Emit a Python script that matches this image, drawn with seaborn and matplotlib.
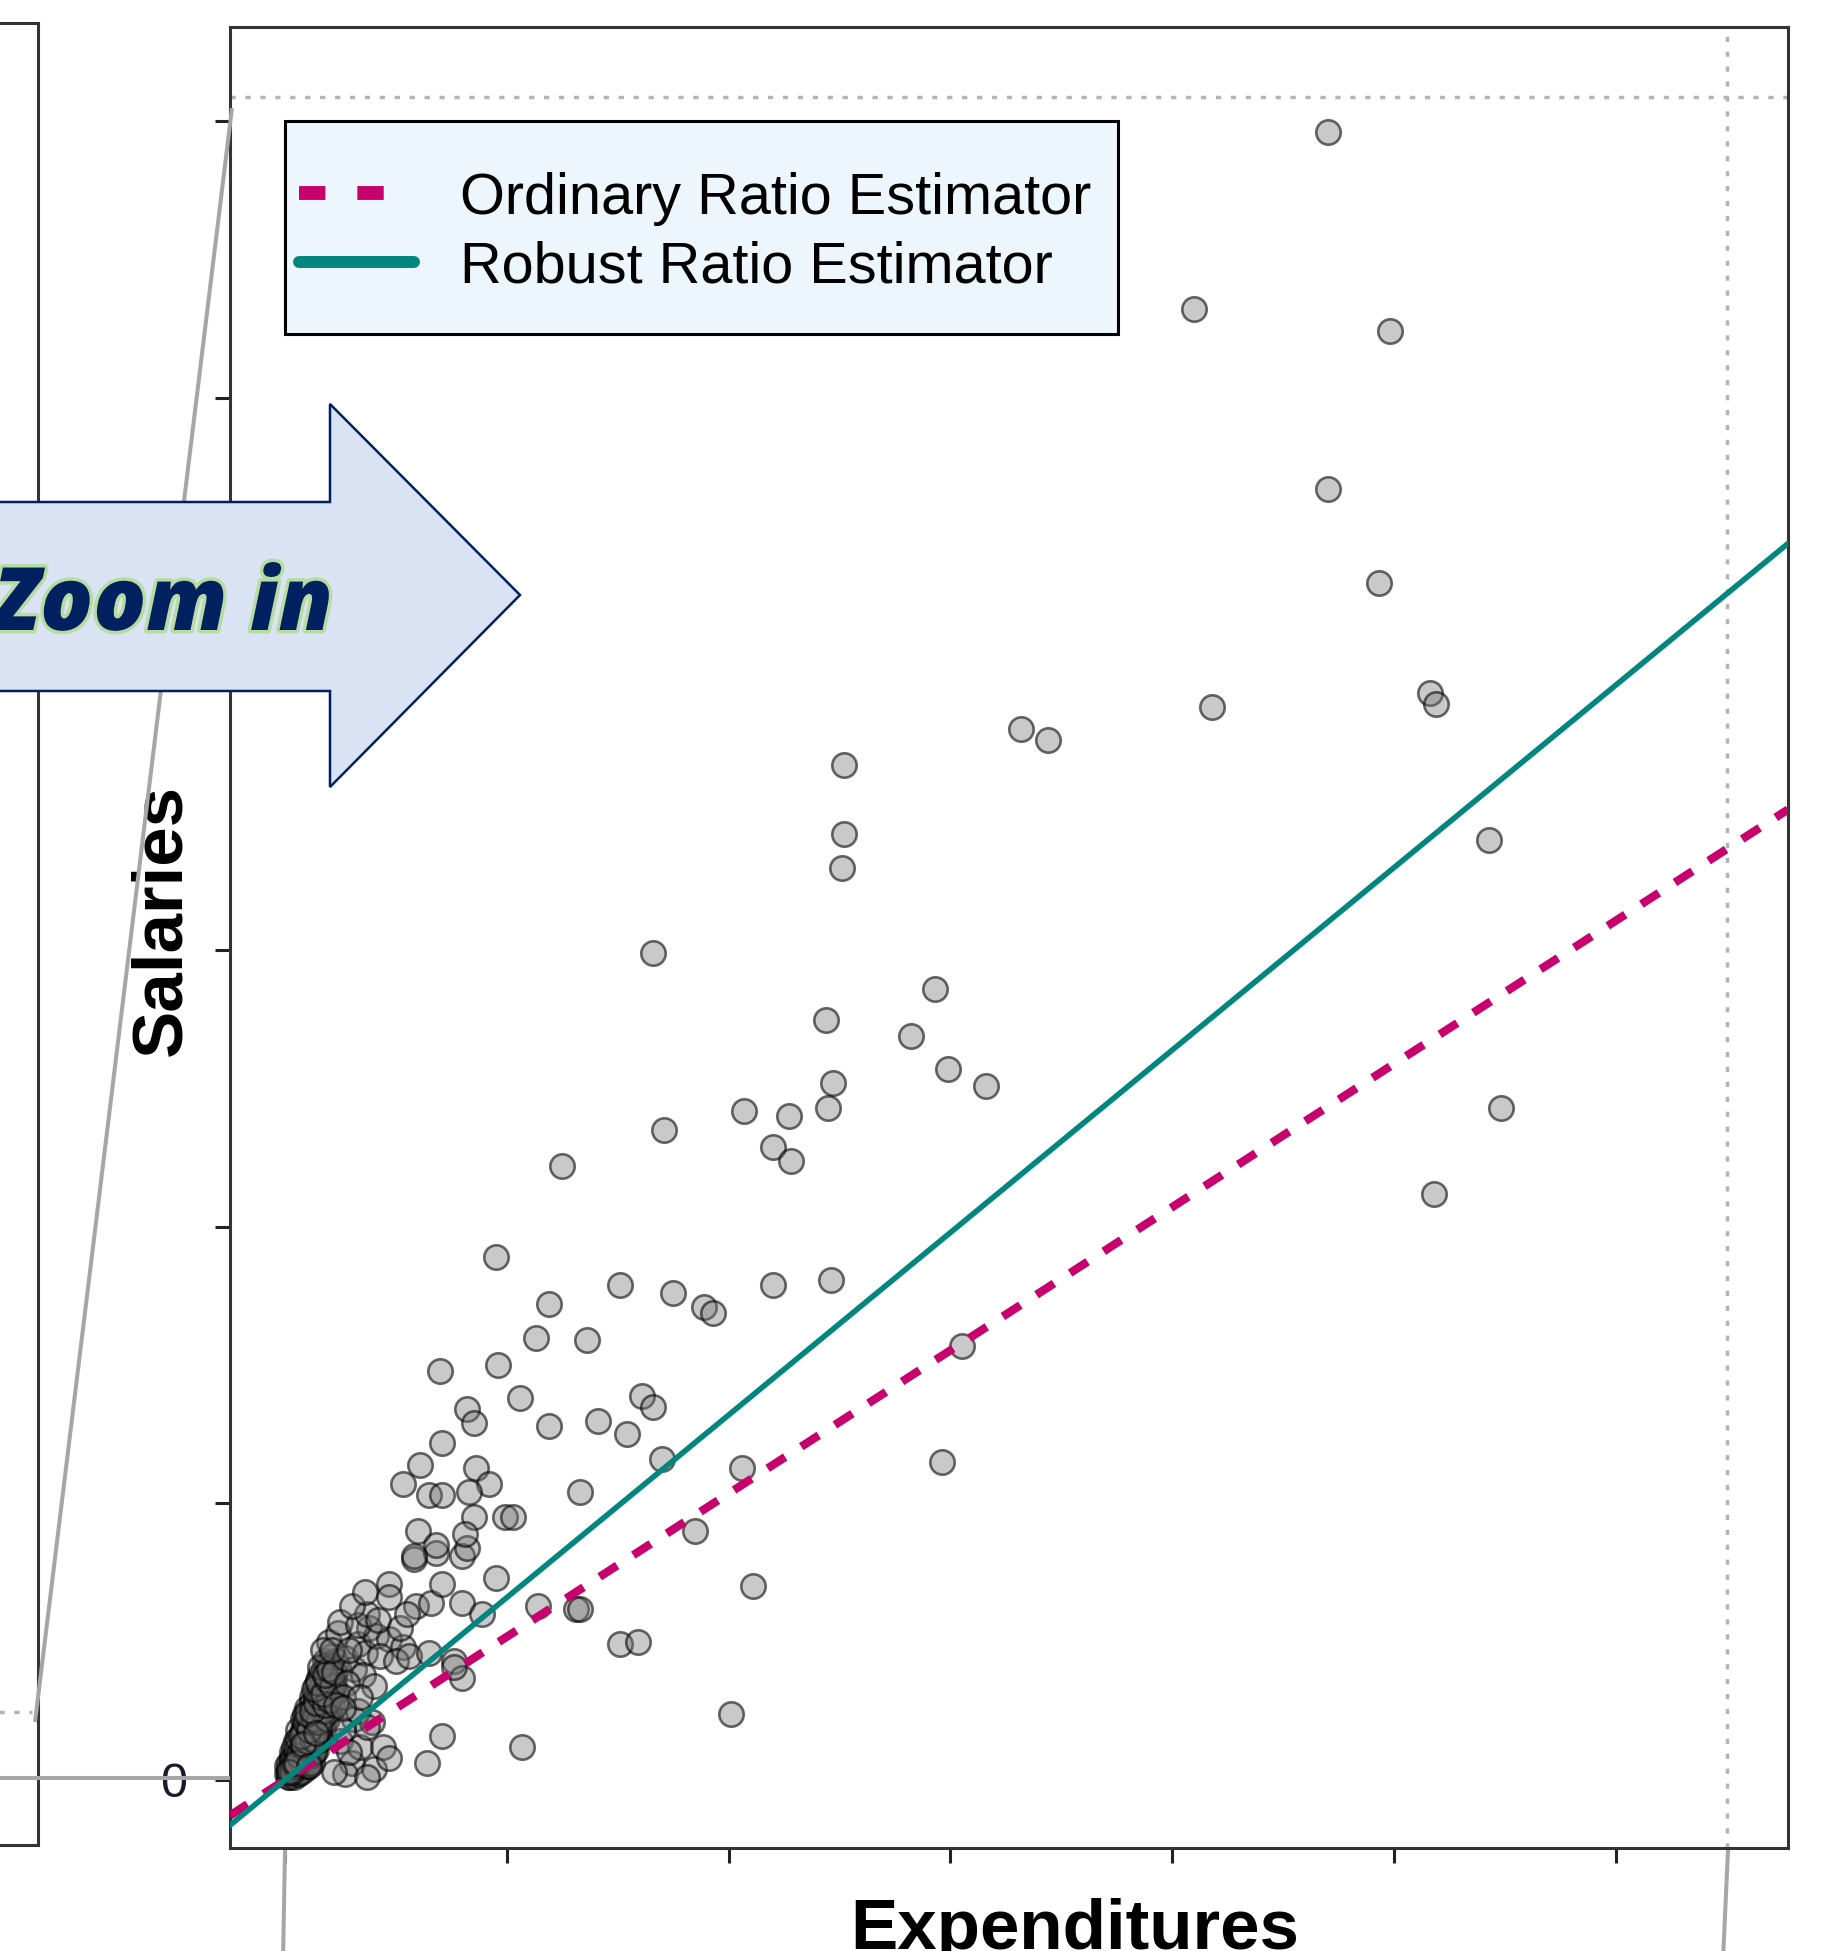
import numpy as np
import pandas as pd
import matplotlib
matplotlib.use("Agg")
import matplotlib.pyplot as plt
import seaborn as sn
from matplotlib.lines import Line2D
from matplotlib.patches import Polygon, Rectangle
import matplotlib.patheffects as pe

# values, in tick units (ticks are unlabelled except 0)
blob_x = [0.01,0.03,0.05,0.02,0.04,0.07,0.09,0.03,0.06,0.08,
          0.11,0.05,0.08,0.10,0.13,0.06,0.09,0.12,0.15,0.08,
          0.11,0.14,0.17,0.10,0.13,0.16,0.19,0.12,0.15,0.18,
          0.21,0.14,0.17,0.20,0.23,0.16,0.19,0.22,0.18,0.21,
          0.24,0.02,0.04,0.06,0.07,0.09,0.10,0.12,0.14,0.16,
          0.18,0.05,0.07,0.11,0.13,0.15,0.17,0.19,0.21,0.20,
          0.01,0.04,0.08,0.03,0.06,
          0.02,0.03,0.04,0.05,0.06,0.07,0.08,0.09,0.10,0.12,
          0.02,0.04,0.06,0.08,0.10,0.12,0.14,0.03,0.05,0.07,
          0.09,0.11,0.13,0.15,0.17,0.06,0.08,0.10,0.12,0.14,
          0.16,0.18,0.20,0.09,0.11,0.13,0.15,0.17,0.19,0.22,
          0.12,0.14,0.16,0.18,0.20,0.15,0.17,0.19,0.21,0.23,
          0.03,0.05,0.07,0.09,0.11,0.13,0.04,0.06,0.08,0.10,
          0.12,0.14,0.16,0.07,0.09,0.11,0.13,0.15,0.17,0.19,
          0.10,0.12,0.14,0.16,0.18,0.20,0.13,0.15,0.17,0.19,
          0.21,0.16,0.18,0.20,0.22,0.02,0.05,0.08,0.11,0.14]
blob_y = [0.02,0.03,0.02,0.06,0.07,0.05,0.04,0.10,0.11,0.09,
          0.08,0.14,0.15,0.13,0.12,0.18,0.19,0.17,0.16,0.22,
          0.23,0.21,0.20,0.26,0.27,0.25,0.24,0.30,0.31,0.29,
          0.28,0.34,0.35,0.33,0.32,0.38,0.40,0.37,0.43,0.45,
          0.41,0.01,0.04,0.06,0.08,0.11,0.16,0.20,0.24,0.28,
          0.32,0.09,0.13,0.10,0.15,0.19,0.23,0.27,0.31,0.36,
          0.05,0.12,0.18,0.08,0.03,
          0.01,0.02,0.01,0.04,0.02,0.03,0.06,0.07,0.05,0.06,
          0.04,0.05,0.08,0.12,0.10,0.09,0.11,0.07,0.11,0.10,
          0.14,0.13,0.17,0.14,0.18,0.15,0.17,0.20,0.22,0.19,
          0.22,0.26,0.25,0.24,0.19,0.26,0.29,0.27,0.30,0.34,
          0.28,0.30,0.33,0.36,0.39,0.36,0.39,0.42,0.38,0.43,
          0.03,0.05,0.07,0.09,0.06,0.10,0.06,0.09,0.12,0.14,
          0.15,0.14,0.18,0.16,0.21,0.18,0.22,0.21,0.25,0.22,
          0.24,0.25,0.28,0.30,0.27,0.29,0.33,0.35,0.31,0.36,
          0.34,0.41,0.38,0.40,0.39,0.03,0.06,0.13,0.05,0.17]

near_x = [0.20,0.24,0.17,0.27,0.31,0.33,0.36,0.38,0.35,0.28,
          0.26,0.23,0.31,0.25,0.30,0.27,0.34,0.40,0.26,0.33,
          0.39,0.25,0.21,0.29,0.41,0.47,0.53,0.43,0.50,0.56,
          0.65,0.76,0.80,0.40,0.34,0.26,0.37,0.44,0.47,0.29,
          0.22,0.37,0.71,0.64,1.07,0.47,0.47,0.58,0.59,0.66,
          0.71,0.68,0.80,0.80,0.95,0.89,1.14,0.76,0.33,0.37,
          0.30,0.42,0.52,0.55,0.36]
near_y = [0.50,0.53,0.47,0.44,0.40,0.49,0.46,0.55,0.38,0.35,
          0.30,0.27,0.22,0.14,0.06,0.02,0.12,0.04,0.18,0.25,
          0.21,0.57,0.47,0.47,0.52,0.51,0.48,0.45,0.43,0.45,
          0.46,0.43,0.37,0.34,0.30,0.26,0.19,0.12,0.08,0.10,
          0.03,0.01,0.16,0.06,0.12,0.71,0.66,0.80,0.63,0.64,
          0.71,0.82,0.81,0.64,0.73,0.60,0.63,0.41,0.56,0.60,
          0.63,0.58,0.55,0.60,0.68]

mid_x = [0.95,1.51,1.75,1.89,1.93,2.20,1.19,1.13,1.36,0.70,
         0.96,0.82,0.85,1.06,1.19,1.41,1.54,1.61,1.66,0.71,
         1.70,2.06,0.61,0.53,0.65,0.71,0.86,0.92,0.83,1.33,
         0.99,1.03,0.85,0.60,1.85,0.68,0.82,0.81,0.58,2.46,
         3.05,2.96,2.11,1.31,1.33,1.51,1.59,2.01]
mid_y = [1.89,1.79,1.76,1.71,1.69,1.79,1.72,1.60,1.59,1.48,
         1.50,1.34,1.29,1.38,1.28,1.30,1.25,1.39,1.35,1.22,
         1.16,1.13,1.14,1.07,1.03,1.03,1.13,1.07,1.04,1.04,
         0.95,0.95,0.95,0.90,0.90,0.85,0.84,0.89,0.81,1.81,
         1.57,1.15,0.70,0.62,0.62,0.49,0.50,0.24]

outer_x = [4.70,4.10,4.98,4.70,4.93,5.16,5.19,4.18,3.32,3.44,
           2.52,2.52,2.51,5.43,1.66,2.93,2.44,2.82,2.99,3.16,
           2.47,2.45,2.07,2.27,2.20,2.28,1.71,5.48,1.25,5.18]
outer_y = [5.96,5.32,5.24,4.67,4.33,3.93,3.89,3.88,3.80,3.76,
           3.67,3.42,3.30,3.40,2.99,2.86,2.75,2.69,2.57,2.51,
           2.52,2.43,2.42,2.40,2.29,2.24,2.35,2.43,2.22,2.12]

ratio_ordinary = 0.518
ratio_robust = 0.66
zoom_xmax = 6.50
zoom_ymax = 6.087
ticks = [0, 1, 2, 3, 4, 5, 6]
tick_labels = ["0", "", "", "", "", "", ""]

PINK = "#c8006e"
TEAL = "#00857f"
GRAY = "#a6a6a6"

df = pd.DataFrame({
    "Expenditures": blob_x + near_x + mid_x + outer_x,
    "Salaries": blob_y + near_y + mid_y + outer_y,
})

plt.rcParams["font.family"] = ["Liberation Sans", "DejaVu Sans"]

W, H = 1827, 1951
fig = plt.figure(figsize=(W / 100, H / 100), dpi=100)

# overlay in pixel coordinates for the connectors, arrow and labels
ov = fig.add_axes([0, 0, 1, 1])
ov.set_xlim(0, W)
ov.set_ylim(H, 0)
ov.axis("off")
ov.set_zorder(10)
ov.patch.set_alpha(0)

# left panel (mostly cropped away)
lp = fig.add_axes([-0.5, 0.0543, 0.5208, 0.9339])
lp.set_xticks([])
lp.set_yticks([])
for s in lp.spines.values():
    s.set_linewidth(2.2)
    s.set_color("#333333")

ax = fig.add_axes([230 / W, (H - 1848) / H, 1558 / W, 1821 / H])
sn.scatterplot(data=df, x="Expenditures", y="Salaries", ax=ax, s=310,
               color=(0.45, 0.45, 0.45, 0.38), edgecolor=(0, 0, 0, 0.58),
               linewidth=1.9, legend=False, zorder=2)
ax.axline((0, 0), slope=ratio_ordinary, color=PINK, lw=6,
          dashes=(2.5, 2.3), dash_capstyle="butt", zorder=3)
ax.axline((0, 0), slope=ratio_robust, color=TEAL, lw=4.0, zorder=3.1)
ax.axhline(zoom_ymax, color="#b4b4b4", lw=2.5, dashes=(1.5, 2.8), zorder=1)
ax.axvline(zoom_xmax, color="#b4b4b4", lw=2.5, dashes=(1.5, 2.8), zorder=1)

ax.set_xlim(-0.248, 6.776)
ax.set_ylim(-0.246, 6.34)
ax.set_xticks(ticks)
ax.set_xticklabels([""] * len(ticks))
ax.set_yticks(ticks)
ax.set_yticklabels(tick_labels)
ax.tick_params(length=10.8, width=2.2, color="#222222", pad=20,
               labelsize=35, labelcolor="#1a1a2e")
ax.set_xlabel("")
ax.set_ylabel("")
for s in ax.spines.values():
    s.set_linewidth(2.2)
    s.set_color("#333333")

# legend box drawn by hand so the padding matches
ax.add_artist(Rectangle((285, 121), 833, 213, transform=ov.transData,
                        facecolor="#eef6fd", edgecolor="black", lw=2.2,
                        zorder=4))
handles = [Line2D([], [], color=PINK, lw=10, dashes=(1.9, 2.3),
                  dash_capstyle="butt"),
           Line2D([], [], color=TEAL, lw=8.6, solid_capstyle="round")]
ax.legend(handles, ["Ordinary Ratio Estimator", "Robust Ratio Estimator"],
          loc="center left", bbox_to_anchor=(285, 233),
          bbox_transform=ov.transData, borderaxespad=0, borderpad=0.24,
          frameon=False, handlelength=2.0, handletextpad=0.8,
          labelspacing=0.26, prop={"family": "Liberation Sans", "size": 41.5})

# axis titles
ov.text(162, 920, "Salaries", rotation=90, ha="center", va="center",
        fontsize=51, fontweight="bold", zorder=1)
ov.text(1075, 1949, "Expenditures", ha="center", va="baseline",
        fontsize=51, fontweight="bold", zorder=1)

# zoom connectors
for xs, ys in [([232, 35], [108, 1722]), ([-5, 230], [1778, 1778]),
               ([285, 283], [1850, 1960]), ([1728, 1723], [1850, 1960])]:
    ov.plot(xs, ys, color=GRAY, lw=2.9, solid_capstyle="butt", zorder=2)
ov.plot([-5, 32], [1712, 1712], color="#b4b4b4", lw=2.5, dashes=(1.5, 2.8),
        zorder=2)

# "Zoom in" block arrow
ov.add_patch(Polygon([(-10, 502), (330, 502), (330, 404), (520, 595),
                      (330, 787), (330, 691), (-10, 691)], closed=True,
                     facecolor="#dae3f3", edgecolor="#002060", lw=1.8,
                     zorder=3))
ov.text(333, 630, "Zoom in", ha="right", va="baseline", fontsize=63,
        fontweight="heavy", fontstyle="italic", color="#002060",
        family=["Open Sans", "DejaVu Sans"], zorder=4,
        path_effects=[pe.withStroke(linewidth=5, foreground="#b6dca0")])

fig.savefig("out.png", dpi=100)
